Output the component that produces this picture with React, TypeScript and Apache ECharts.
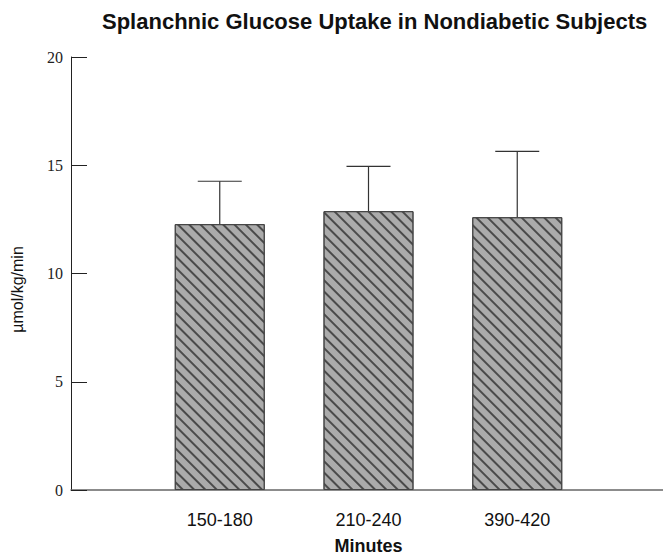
import React, { useEffect, useRef } from "react";
import * as echarts from "echarts";

const categories = ["150-180", "210-240", "390-420"];
const uptake = [12.28, 12.88, 12.6];
const sem = [1.98, 2.07, 3.04];
const yTicks = { min: 0, max: 20, interval: 5 };

export default function App() {
  const ref = useRef<HTMLDivElement>(null);
  useEffect(() => {
    if (!ref.current) return;
    const chart = echarts.init(ref.current, null, { renderer: "svg" });
    const axisCats = ["", ...categories, ""];
    const barData: any[] = ["-", ...uptake, "-"];
    const errData = categories.map((_, i) => [i + 1, uptake[i], uptake[i] + sem[i]]);
    chart.setOption({
      animation: false,
      backgroundColor: "#ffffff",
      title: {
        text: "Splanchnic Glucose Uptake in Nondiabetic Subjects",
        left: 102,
        top: 10,
        padding: 0,
        textStyle: {
          fontFamily: "Liberation Sans, Arial, sans-serif",
          fontWeight: "bold",
          fontSize: 22,
          color: "#111",
        },
      },
      grid: { left: 71, top: 57, width: 595, height: 433, outerBoundsMode: "none", containLabel: false },
      xAxis: {
        type: "category",
        data: axisCats,
        boundaryGap: false,
        name: "Minutes",
        nameLocation: "middle",
        nameGap: 47,
        nameTextStyle: {
          fontFamily: "Liberation Sans, Arial, sans-serif",
          fontWeight: "bold",
          fontSize: 18,
          color: "#111",
        },
        axisLine: { lineStyle: { color: "#666", width: 1.5 } },
        axisTick: { show: false },
        axisLabel: {
          margin: 21,
          fontFamily: "Liberation Sans, Arial, sans-serif",
          fontSize: 18,
          color: "#111",
          interval: 0,
        },
        splitLine: { show: false },
      },
      yAxis: {
        type: "value",
        min: yTicks.min,
        max: yTicks.max,
        interval: yTicks.interval,
        name: "µmol/kg/min",
        nameLocation: "middle",
        nameGap: 46,
        nameTextStyle: {
          fontFamily: "Liberation Sans, Arial, sans-serif",
          fontSize: 16,
          color: "#111",
          padding: [0, 32, 0, 0],
        },
        axisLine: { show: true, lineStyle: { color: "#222", width: 1 } },
        axisTick: { show: true, inside: true, length: 16, lineStyle: { color: "#222" } },
        axisLabel: {
          margin: 8,
          fontFamily: "Liberation Serif, Times New Roman, serif",
          fontSize: 16,
          color: "#222",
        },
        splitLine: { show: false },
      },
      series: [
        {
          type: "bar",
          data: barData,
          barWidth: 90,
          itemStyle: {
            color: "#ababab",
            borderColor: "#444",
            borderWidth: 1,
            decal: {
              symbol: "rect",
              symbolSize: 1,
              dashArrayX: [1, 0],
              dashArrayY: [1.5, 5.5],
              rotation: Math.PI / 4,
              color: "#4a4a4a",
            },
          },
        },
        {
          type: "custom",
          data: errData,
          z: 1,
          renderItem: (params: any, api: any) => {
            const base = api.coord([api.value(0), api.value(1)]);
            const top = api.coord([api.value(0), api.value(2)]);
            const half = 22;
            const style = { stroke: "#333", lineWidth: 1.2 };
            return {
              type: "group",
              children: [
                { type: "line", shape: { x1: base[0], y1: base[1], x2: top[0], y2: top[1] }, style },
                { type: "line", shape: { x1: top[0] - half, y1: top[1], x2: top[0] + half, y2: top[1] }, style },
              ],
            };
          },
        },
      ],
    });
    return () => chart.dispose();
  }, []);
  return (
    <div
      ref={ref}
      style={{ position: "fixed", left: 0, top: 0, width: 663, height: 556 }}
    />
  );
}
